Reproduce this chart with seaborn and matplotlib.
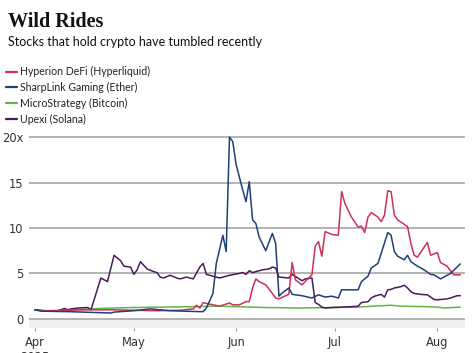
import matplotlib
matplotlib.use("Agg")
import matplotlib.pyplot as plt
import matplotlib.dates as mdates
from matplotlib.lines import Line2D
import pandas as pd
import seaborn as sns

# ---------------- data (price relative to April 1 2025) ----------------
hyp_dates = ["2025-04-01", "2025-04-04", "2025-04-10", "2025-04-18", "2025-04-25", "2025-05-01",
             "2025-05-08", "2025-05-15", "2025-05-19", "2025-05-20", "2025-05-21", "2025-05-22",
             "2025-05-23", "2025-05-25", "2025-05-27", "2025-05-30", "2025-05-31", "2025-06-02",
             "2025-06-04", "2025-06-05", "2025-06-06", "2025-06-07", "2025-06-08", "2025-06-10",
             "2025-06-12", "2025-06-13", "2025-06-14", "2025-06-16", "2025-06-17", "2025-06-18",
             "2025-06-19", "2025-06-21", "2025-06-23", "2025-06-24", "2025-06-25", "2025-06-26",
             "2025-06-27", "2025-06-28", "2025-06-30", "2025-07-02", "2025-07-03", "2025-07-04",
             "2025-07-06", "2025-07-08", "2025-07-09", "2025-07-10", "2025-07-11", "2025-07-12",
             "2025-07-14", "2025-07-15", "2025-07-16", "2025-07-17", "2025-07-18", "2025-07-19",
             "2025-07-20", "2025-07-22", "2025-07-23", "2025-07-24", "2025-07-25", "2025-07-26",
             "2025-07-29", "2025-07-30", "2025-08-01", "2025-08-02", "2025-08-04", "2025-08-05",
             "2025-08-06", "2025-08-08"]
hyp_vals = [1.0, 0.9, 0.95, 1.0, 1.0, 0.95,
            0.9, 0.95, 1.1, 1.5, 1.2, 1.8,
            1.7, 1.55, 1.4, 1.75, 1.55, 1.55,
            1.9, 1.9, 3.4, 4.4, 4.1, 3.75,
            2.8, 2.3, 2.2, 2.55, 2.7, 6.2,
            4.3, 3.75, 4.5, 4.85, 8.0, 8.5,
            6.9, 9.6, 9.3, 9.2, 14.0, 12.7,
            11.2, 10.1, 10.2, 9.5, 11.2, 11.7,
            11.2, 10.7, 11.4, 14.1, 14.0, 11.4,
            10.9, 10.4, 10.15, 8.3, 7.0, 6.8,
            8.4, 7.0, 7.3, 6.2, 5.8, 5.3,
            4.85, 4.85]

shp_dates = ["2025-04-01", "2025-04-03", "2025-04-11", "2025-04-24", "2025-04-25", "2025-05-01",
             "2025-05-06", "2025-05-12", "2025-05-21", "2025-05-22", "2025-05-23", "2025-05-25",
             "2025-05-26", "2025-05-28", "2025-05-29", "2025-05-30", "2025-05-31", "2025-06-01",
             "2025-06-02", "2025-06-03", "2025-06-04", "2025-06-05", "2025-06-06", "2025-06-07",
             "2025-06-08", "2025-06-10", "2025-06-12", "2025-06-13", "2025-06-14", "2025-06-15",
             "2025-06-17", "2025-06-18", "2025-06-21", "2025-06-24", "2025-06-26", "2025-06-28",
             "2025-06-30", "2025-07-02", "2025-07-03", "2025-07-08", "2025-07-09", "2025-07-11",
             "2025-07-12", "2025-07-14", "2025-07-15", "2025-07-17", "2025-07-18", "2025-07-19",
             "2025-07-20", "2025-07-22", "2025-07-23", "2025-07-24", "2025-07-26", "2025-07-28",
             "2025-07-30", "2025-07-31", "2025-08-02", "2025-08-05", "2025-08-08"]
shp_vals = [1.0, 0.85, 0.8, 0.65, 0.75, 0.9,
            1.1, 0.9, 0.8, 0.8, 1.2, 2.8,
            6.1, 9.2, 7.4, 20.0, 19.5, 17.0,
            15.6, 14.2, 12.9, 15.1, 10.9, 10.5,
            9.0, 7.5, 9.4, 8.3, 2.5, 2.85,
            3.4, 2.7, 2.55, 2.3, 2.65, 2.4,
            2.5, 2.3, 3.2, 3.2, 4.1, 4.7,
            5.6, 6.1, 7.2, 9.5, 9.2, 7.4,
            6.9, 6.5, 7.0, 6.3, 5.8, 5.4,
            4.9, 4.85, 4.4, 5.0, 6.05]

mstr_dates = ["2025-04-01", "2025-04-04", "2025-04-08", "2025-04-10", "2025-04-15", "2025-04-21",
              "2025-04-25", "2025-05-01", "2025-05-10", "2025-05-20", "2025-05-26", "2025-06-01",
              "2025-06-10", "2025-06-20", "2025-06-30", "2025-07-08", "2025-07-15", "2025-07-18",
              "2025-07-21", "2025-07-28", "2025-08-01", "2025-08-03", "2025-08-08"]
mstr_vals = [1.0, 0.9, 0.85, 1.0, 1.05, 1.15,
             1.2, 1.25, 1.3, 1.35, 1.4, 1.35,
             1.25, 1.2, 1.25, 1.3, 1.45, 1.5,
             1.4, 1.35, 1.3, 1.2, 1.3]

upx_dates = ["2025-04-01", "2025-04-03", "2025-04-06", "2025-04-08", "2025-04-10", "2025-04-11",
             "2025-04-12", "2025-04-14", "2025-04-17", "2025-04-18", "2025-04-21", "2025-04-23",
             "2025-04-25", "2025-04-27", "2025-04-28", "2025-04-30", "2025-05-01", "2025-05-02",
             "2025-05-03", "2025-05-04", "2025-05-05", "2025-05-07", "2025-05-08", "2025-05-09",
             "2025-05-10", "2025-05-12", "2025-05-14", "2025-05-15", "2025-05-17", "2025-05-18",
             "2025-05-19", "2025-05-21", "2025-05-22", "2025-05-23", "2025-05-25", "2025-05-27",
             "2025-05-28", "2025-05-30", "2025-06-02", "2025-06-03", "2025-06-04", "2025-06-05",
             "2025-06-06", "2025-06-08", "2025-06-09", "2025-06-11", "2025-06-12", "2025-06-13",
             "2025-06-14", "2025-06-17", "2025-06-18", "2025-06-21", "2025-06-22", "2025-06-24",
             "2025-06-25", "2025-06-26", "2025-06-27", "2025-06-28", "2025-06-30", "2025-07-03",
             "2025-07-06", "2025-07-08", "2025-07-09", "2025-07-11", "2025-07-12", "2025-07-13",
             "2025-07-15", "2025-07-16", "2025-07-17", "2025-07-18", "2025-07-19", "2025-07-21",
             "2025-07-22", "2025-07-23", "2025-07-24", "2025-07-25", "2025-07-27", "2025-07-29",
             "2025-07-30", "2025-07-31", "2025-08-01", "2025-08-04", "2025-08-05", "2025-08-07",
             "2025-08-08"]
upx_vals = [1.0, 0.9, 0.85, 0.9, 1.15, 1.0,
            1.1, 1.2, 1.25, 1.0, 4.5, 4.1,
            7.0, 6.4, 5.8, 5.7, 4.9, 5.4,
            6.3, 5.9, 5.5, 5.2, 5.1, 4.6,
            4.5, 4.8, 4.5, 4.4, 4.6, 4.5,
            4.4, 5.7, 6.1, 4.9, 4.7, 4.5,
            4.6, 4.8, 5.0, 5.1, 4.9, 5.3,
            5.1, 5.3, 5.4, 5.5, 5.7, 5.6,
            4.6, 4.5, 4.9, 4.2, 4.4, 4.5,
            1.8, 1.6, 1.3, 1.2, 1.25, 1.3,
            1.35, 1.4, 1.8, 1.9, 2.3, 2.5,
            2.7, 2.4, 3.2, 3.25, 3.4, 3.55,
            3.7, 3.4, 3.0, 2.8, 2.7, 2.65,
            2.4, 2.15, 2.1, 2.2, 2.3, 2.55,
            2.55]

series_names = ["Hyperion DeFi (Hyperliquid)", "SharpLink Gaming (Ether)",
                "MicroStrategy (Bitcoin)", "Upexi (Solana)"]
series_colors = ["#cf2f57", "#1f3f78", "#62b54a", "#4a1a5c"]
y_ticks = [0, 5, 10, 15, 20]
y_tick_labels = ["0", "5", "10", "15", "20x"]
x_ticks = ["2025-04-01", "2025-05-01", "2025-06-01", "2025-07-01", "2025-08-01"]
x_tick_labels = ["Apr\n2025", "May", "Jun", "Jul", "Aug"]

frames = []
for name, d, v in zip(series_names,
                      [hyp_dates, shp_dates, mstr_dates, upx_dates],
                      [hyp_vals, shp_vals, mstr_vals, upx_vals]):
    frames.append(pd.DataFrame({"date": pd.to_datetime(d), "value": v, "series": name}))
df = pd.concat(frames, ignore_index=True)

# ---------------- figure ----------------
sns.set_theme(style="white")
plt.rcParams["font.family"] = ["DejaVu Sans"]

fig = plt.figure(figsize=(4.73, 3.53), dpi=100)
ax = fig.add_axes([29 / 473, 25 / 353, 436 / 473, 195 / 353])

ax.axhspan(-1.0, 0, color="#f0f0f0", lw=0, zorder=0)
for t in y_ticks:
    ax.axhline(t, color="#b3b3b3", lw=1.4, zorder=1)

palette = dict(zip(series_names, series_colors))
order = ["MicroStrategy (Bitcoin)", "Upexi (Solana)", "Hyperion DeFi (Hyperliquid)",
         "SharpLink Gaming (Ether)"]
sns.lineplot(data=df, x="date", y="value", hue="series", hue_order=order,
             palette=palette, estimator=None, sort=True, lw=1.1, ax=ax,
             legend=False, zorder=3)

ax.set_xlim(pd.Timestamp("2025-03-30 05:00"), pd.Timestamp("2025-08-09 10:00"))
ax.set_ylim(-1.0, 20.45)
ax.set_xlabel("")
ax.set_ylabel("")
for s in ax.spines.values():
    s.set_visible(False)

ax.set_yticks(y_ticks)
ax.set_yticklabels(y_tick_labels)
ax.tick_params(axis="y", length=0, pad=4, labelsize=8.3, labelcolor="#333333")
ax.set_xticks(pd.to_datetime(x_ticks))
ax.set_xticklabels(x_tick_labels, linespacing=1.2)
ax.tick_params(axis="x", length=2.5, width=0.8, color="#999999", pad=3,
               labelsize=8.3, labelcolor="#333333", direction="out", bottom=True)
for lab in ax.get_yticklabels():
    lab.set_horizontalalignment("right")

# ---------------- titles ----------------
fig.text(8 / 473, 1 - 27 / 353, "Wild Rides", fontsize=14.5, fontweight="bold",
         family=["Liberation Serif"], color="#111111", va="baseline")
fig.text(8 / 473, 1 - 46 / 353, "Stocks that hold crypto have tumbled recently",
         fontsize=9, family=["Lato"], color="#111111", va="baseline")

handles = [Line2D([0], [0], color=c, lw=1.6) for c in series_colors]
leg = fig.legend(handles, series_names, loc="upper left",
                 bbox_to_anchor=(2 / 473, 1 - 62 / 353), frameon=False,
                 prop={"family": "Lato", "size": 7.6}, handlelength=1.0,
                 handletextpad=0.3, labelspacing=0.45, borderaxespad=0)
for t in leg.get_texts():
    t.set_color("#222222")

fig.savefig("out.png", dpi=100)
